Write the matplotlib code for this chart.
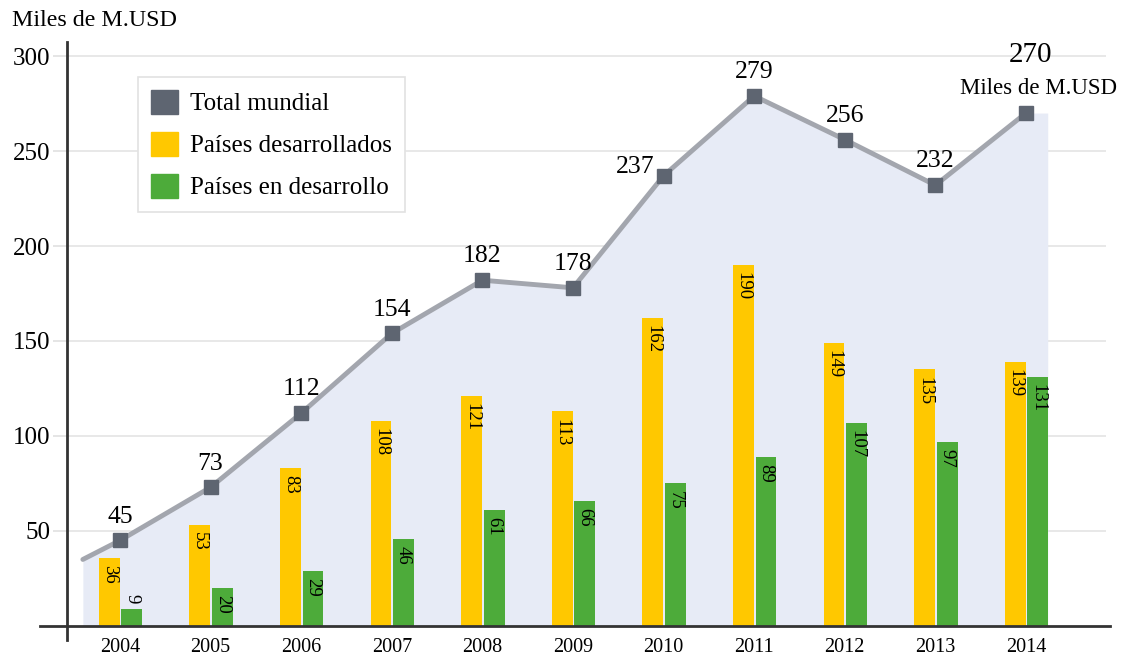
import numpy as np
import matplotlib.pyplot as plt
from matplotlib.patches import Patch

plt.rcParams['font.family'] = ['Liberation Serif', 'DejaVu Serif']

# Datos (miles de millones USD)
years = ['2004', '2005', '2006', '2007', '2008', '2009', '2010', '2011', '2012', '2013', '2014']
total = [45, 73, 112, 154, 182, 178, 237, 279, 256, 232, 270]
desarrollados = [36, 53, 83, 108, 121, 113, 162, 190, 149, 135, 139]
en_desarrollo = [9, 20, 29, 46, 61, 66, 75, 89, 107, 97, 131]
line_start = 35   # valor donde arranca la línea, antes de 2004

COL_DEV = '#ffc800'
COL_EMG = '#4dab3a'
COL_LINE = '#a3a6ae'
COL_MARK = '#5e6571'
COL_FILL = '#e7ebf6'

W, H = 1134, 663
fig = plt.figure(figsize=(W / 100, H / 100), dpi=100)

# ejes en pixeles: x de 40 a 1110, y de 42 a 640
ax = fig.add_axes([40 / W, (H - 640) / H, (1110 - 40) / W, (640 - 42) / H])
x0_px, dx_px = 120, 90.6
ax.set_xlim((40 - x0_px) / dx_px, (1110 - x0_px) / dx_px)
ax.set_ylim(-7.4, 307.4)
yaxis_x = (67 - x0_px) / dx_px

x = np.arange(len(years))

# área y línea del total
fx = np.concatenate([[-0.41], x, [10.24]])
fy = np.concatenate([[line_start], total, [total[-1]]])
ax.fill_between(fx, 0, fy, color=COL_FILL, lw=0, zorder=1)

# rejilla
yt = [50, 100, 150, 200, 250, 300]
ax.hlines(yt, yaxis_x, (1106 - x0_px) / dx_px, color='#e4e4e4', lw=1.2, zorder=0)

# barras
bw = 0.23
ax.bar(x - 0.12, desarrollados, bw, color=COL_DEV, zorder=2)
ax.bar(x + 0.13, en_desarrollo, bw, color=COL_EMG, zorder=2)

for i in range(len(years)):
    ax.text(x[i] - 0.12, desarrollados[i] - 3.8, str(desarrollados[i]), rotation=270,
            ha='center', va='top', fontsize=13.5, zorder=4)
    v = en_desarrollo[i]
    if v < 15:
        ax.text(x[i] + 0.13, v + 3, str(v), rotation=270, ha='center', va='bottom',
                fontsize=13.5, zorder=4)
    else:
        ax.text(x[i] + 0.13, v - 3.8, str(v), rotation=270, ha='center', va='top',
                fontsize=13.5, zorder=4)

ax.plot(np.concatenate([[-0.41], x]), np.concatenate([[line_start], total]),
        color=COL_LINE, lw=3.5, solid_capstyle='round', zorder=3)
ax.plot(x, total, ls='none', marker='s', ms=10, color=COL_MARK, zorder=5)

for i in range(len(years) - 1):
    dxo = -0.31 if years[i] == '2010' else 0
    dyo = 4.5 if years[i] == '2010' else 12.5
    ax.text(x[i] + dxo, total[i] + dyo, str(total[i]), ha='center', va='center',
            fontsize=18.5, zorder=6)

ax.text(x[-1] + 0.05, total[-1] + 30.5, str(total[-1]), ha='center', va='center', fontsize=21)
ax.text(x[-1] + 0.14, total[-1] + 13, 'Miles de M.USD', ha='center', va='center', fontsize=16.5)

# ejes
for s in ['top', 'right']:
    ax.spines[s].set_visible(False)
ax.spines['left'].set_position(('data', yaxis_x))
ax.spines['bottom'].set_position(('data', 0))
ax.spines['left'].set_color('#333333')
ax.spines['bottom'].set_color('#333333')
ax.spines['left'].set_linewidth(2)
ax.spines['bottom'].set_linewidth(2)

ax.set_yticks(yt)
ax.set_yticklabels([str(v) for v in yt], fontsize=18)
ax.tick_params(axis='y', length=10, color='#e0e0e0', width=1.2, pad=2)
ax.set_xticks(x)
ax.set_xticklabels(years, fontsize=14.5)
ax.tick_params(axis='x', length=0, pad=9)

fig.text(12 / W, 1 - 20 / H, 'Miles de M.USD', ha='left', va='center', fontsize=17.3)

handles = [Patch(color=COL_MARK), Patch(color=COL_DEV), Patch(color=COL_EMG)]
leg = ax.legend(handles, ['Total mundial', 'Países desarrollados', 'Países en desarrollo'],
                loc='upper left', bbox_to_anchor=(138 / W, 1 - 77 / H),
                bbox_transform=fig.transFigure, fontsize=18, fancybox=False,
                framealpha=1, edgecolor='#e2e2e2', handlelength=1.1, handleheight=1.1,
                labelspacing=0.66, handletextpad=0.5, borderpad=0.5, borderaxespad=0)
leg.get_frame().set_linewidth(1.2)
leg.set_zorder(10)

fig.savefig('out.png', dpi=100)
